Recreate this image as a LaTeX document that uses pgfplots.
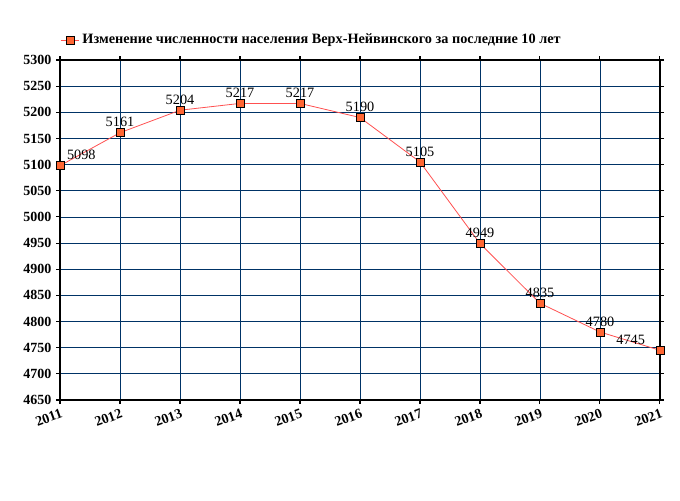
\documentclass[border=0pt]{standalone}
\usepackage{pgfplots}
\pgfplotsset{compat=1.18}
\usepackage{fontspec}
\setmainfont{Liberation Serif}
\definecolor{gridblue}{RGB}{0,51,102}
\definecolor{linered}{RGB}{255,80,80}
\definecolor{markfill}{RGB}{255,102,51}
\begin{document}
\begin{tikzpicture}
\path[use as bounding box] (0,0) rectangle (510pt,375pt);
\begin{axis}[
  at={(45pt,75pt)}, anchor=south west,
  scale only axis, width=450pt, height=255pt,
  xmin=2011, xmax=2021, ymin=4650, ymax=5300,
  xtick={2011,...,2021}, ytick={4650,4700,...,5300},
  xticklabel style={font=\fontsize{10.5}{12}\selectfont\bfseries, rotate=20, anchor=north east, inner sep=1pt, yshift=-2pt},
  yticklabel style={font=\fontsize{10.5}{12}\selectfont\bfseries},
  /pgf/number format/assume math mode=true,
  /pgf/number format/1000 sep={},
  xticklabel={\pgfmathprintnumber[1000 sep={}]{\tick}},
  grid=major, major grid style={gridblue, line width=0.6pt},
  axis line style={black, line width=0.8pt},
  tick align=outside, major tick length=3pt,
  tick style={black, line width=0.8pt},
  legend style={at={(rel axis cs:0,1.025)}, anchor=south west, draw=none, fill=none,
    font=\fontsize{10.7}{12}\selectfont\bfseries, inner xsep=0pt},
  legend image code/.code={
    \draw[#1, mark=none] (0pt,0pt) -- (14pt,0pt);
    \draw[#1, only marks] plot coordinates {(7pt,0pt)};
  },
  legend cell align=left,
  clip=false,
]
\draw[black, line width=1.6pt] (rel axis cs:0,0) -- (rel axis cs:0,1);
\draw[black, line width=1.6pt] (rel axis cs:0,0) -- (rel axis cs:1,0);
\addplot[color=linered, line width=0.6pt, mark=square*,
  mark options={fill=markfill, draw=black, line width=0.5pt}, mark size=3pt,
  nodes near coords,
  visualization depends on={value \thisrow{dx} \as \dx},
  nodes near coords style={font=\fontsize{10.7}{12}\selectfont, text=black, anchor=south, xshift=\dx pt, yshift=2pt, inner sep=2pt},
  point meta=explicit symbolic]
table[meta=lab] {
x y lab dx
2011 5098 5098 16
2012 5161 5161 0
2013 5204 5204 0
2014 5217 5217 0
2015 5217 5217 0
2016 5190 5190 0
2017 5105 5105 0
2018 4949 4949 0
2019 4835 4835 0
2020 4780 4780 0
2021 4745 4745 -22
};
\addlegendentry{Изменение численности населения Верх-Нейвинского за последние 10 лет}
\end{axis}
\end{tikzpicture}
\end{document}
